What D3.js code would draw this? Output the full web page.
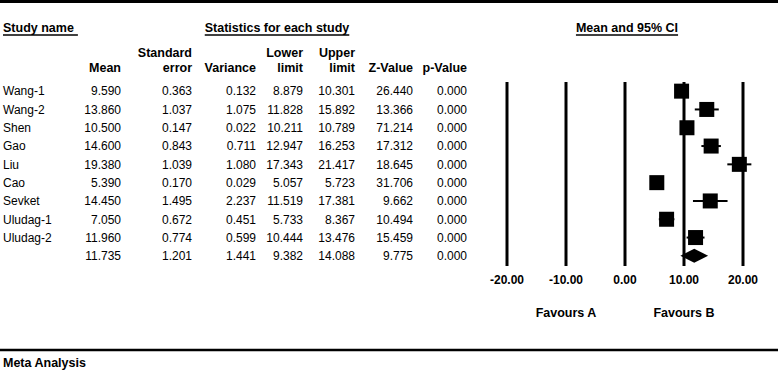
<!DOCTYPE html>
<html lang="en">
<head>
<meta charset="UTF-8">
<script src="https://d3js.org/d3.v7.min.js"></script>
<title>Meta Analysis</title>
<style>
    body { margin: 0; background: #fff; }
    svg { display: block; font-family: "Liberation Sans", Arial, sans-serif; }
    .hdr { font-weight: bold; font-size: 12.5px; }
    .cell { font-size: 12px; }
    .tick { font-weight: bold; font-size: 12px; }
</style>
</head>
<body>
<svg id="chart" width="778" height="375"></svg>
<script>
    const studies   = ["Wang-1", "Wang-2", "Shen", "Gao", "Liu", "Cao", "Sevket", "Uludag-1", "Uludag-2", ""];
    const means     = [9.590, 13.860, 10.500, 14.600, 19.380, 5.390, 14.450, 7.050, 11.960, 11.735];
    const stdErr    = [0.363, 1.037, 0.147, 0.843, 1.039, 0.170, 1.495, 0.672, 0.774, 1.201];
    const variances = [0.132, 1.075, 0.022, 0.711, 1.080, 0.029, 2.237, 0.451, 0.599, 1.441];
    const lower     = [8.879, 11.828, 10.211, 12.947, 17.343, 5.057, 11.519, 5.733, 10.444, 9.382];
    const upper     = [10.301, 15.892, 10.789, 16.253, 21.417, 5.723, 17.381, 8.367, 13.476, 14.088];
    const zValues   = [26.440, 13.366, 71.214, 17.312, 18.645, 31.706, 9.662, 10.494, 15.459, 9.775];
    const pValues   = [0, 0, 0, 0, 0, 0, 0, 0, 0, 0];
    const ticks     = [-20, -10, 0, 10, 20];

    const svg = d3.select("#chart");
    const W = 778;

    // horizontal rules
    svg.append("line").attr("x1", 0).attr("x2", W).attr("y1", 1.5).attr("y2", 1.5)
        .attr("stroke", "#000").attr("stroke-width", 3);
    svg.append("line").attr("x1", 0).attr("x2", W).attr("y1", 350).attr("y2", 350)
        .attr("stroke", "#000").attr("stroke-width", 2.5);

    // group headers (underlined)
    function underlined(x, y, txt, anchor) {
        const t = svg.append("text").attr("class", "hdr")
            .attr("x", x).attr("y", y).attr("text-anchor", anchor).text(txt);
        const b = t.node().getBBox();
        svg.append("line").attr("x1", b.x).attr("x2", b.x + b.width + (anchor === "start" ? 4 : 0))
            .attr("y1", y + 3).attr("y2", y + 3).attr("stroke", "#000").attr("stroke-width", 1.3);
    }
    underlined(3, 32, "Study name", "start");
    underlined(277, 32, "Statistics for each study", "middle");
    underlined(627, 32, "Mean and 95% CI", "middle");

    // table columns
    const cols = [
        { h: ["", "Mean"], x: 121, v: means },
        { h: ["Standard", "error"], x: 192, v: stdErr },
        { h: ["", "Variance"], x: 256, v: variances },
        { h: ["Lower", "limit"], x: 303, v: lower },
        { h: ["Upper", "limit"], x: 355, v: upper },
        { h: ["", "Z-Value"], x: 413, v: zValues },
        { h: ["", "p-Value"], x: 467, v: pValues }
    ];

    const y = d3.scaleBand().domain(d3.range(studies.length)).range([82, 265]);
    const rowY = i => y(i) + y.bandwidth() / 2;

    cols.forEach(c => {
        svg.append("text").attr("class", "hdr").attr("x", c.x).attr("y", 57)
            .attr("text-anchor", "end").text(c.h[0]);
        svg.append("text").attr("class", "hdr").attr("x", c.x).attr("y", 72)
            .attr("text-anchor", "end").text(c.h[1]);
        svg.selectAll(null).data(c.v).enter().append("text")
            .attr("class", "cell").attr("x", c.x).attr("y", (d, i) => rowY(i) + 4.3)
            .attr("text-anchor", "end").text(d => d.toFixed(3));
    });

    svg.selectAll(".name").data(studies).enter().append("text")
        .attr("class", "cell name").attr("x", 3).attr("y", (d, i) => rowY(i) + 4.3).text(d => d);

    // forest plot
    const x = d3.scaleLinear().domain([-20, 20]).range([507, 743]);

    svg.selectAll(".grid").data(ticks).enter().append("line")
        .attr("x1", d => x(d)).attr("x2", d => x(d)).attr("y1", 82).attr("y2", 266)
        .attr("stroke", "#000").attr("stroke-width", 3);

    svg.selectAll(".tick").data(ticks).enter().append("text")
        .attr("class", "tick").attr("x", d => x(d)).attr("y", 284)
        .attr("text-anchor", "middle").text(d => d.toFixed(2));

    svg.append("text").attr("class", "hdr").attr("x", x(-10)).attr("y", 317)
        .attr("text-anchor", "middle").text("Favours A");
    svg.append("text").attr("class", "hdr").attr("x", x(10)).attr("y", 317)
        .attr("text-anchor", "middle").text("Favours B");

    const nStudy = studies.length - 1;
    const idx = d3.range(nStudy);
    const sq = 15;

    svg.selectAll(".ci").data(idx).enter().append("line")
        .attr("x1", i => x(lower[i])).attr("x2", i => x(upper[i]))
        .attr("y1", i => rowY(i)).attr("y2", i => rowY(i))
        .attr("stroke", "#000").attr("stroke-width", 2);

    svg.selectAll(".sq").data(idx).enter().append("rect")
        .attr("x", i => x(means[i]) - sq / 2).attr("y", i => rowY(i) - sq / 2)
        .attr("width", sq).attr("height", sq).attr("fill", "#000");

    // summary diamond
    const s = nStudy, cy = rowY(s);
    svg.append("path")
        .attr("d", `M${x(lower[s])},${cy} L${x(means[s])},${cy - 7} L${x(upper[s])},${cy} L${x(means[s])},${cy + 7} Z`)
        .attr("fill", "#000");

    svg.append("text").attr("class", "hdr").attr("x", 3).attr("y", 367).text("Meta Analysis");
</script>
</body>
</html>
